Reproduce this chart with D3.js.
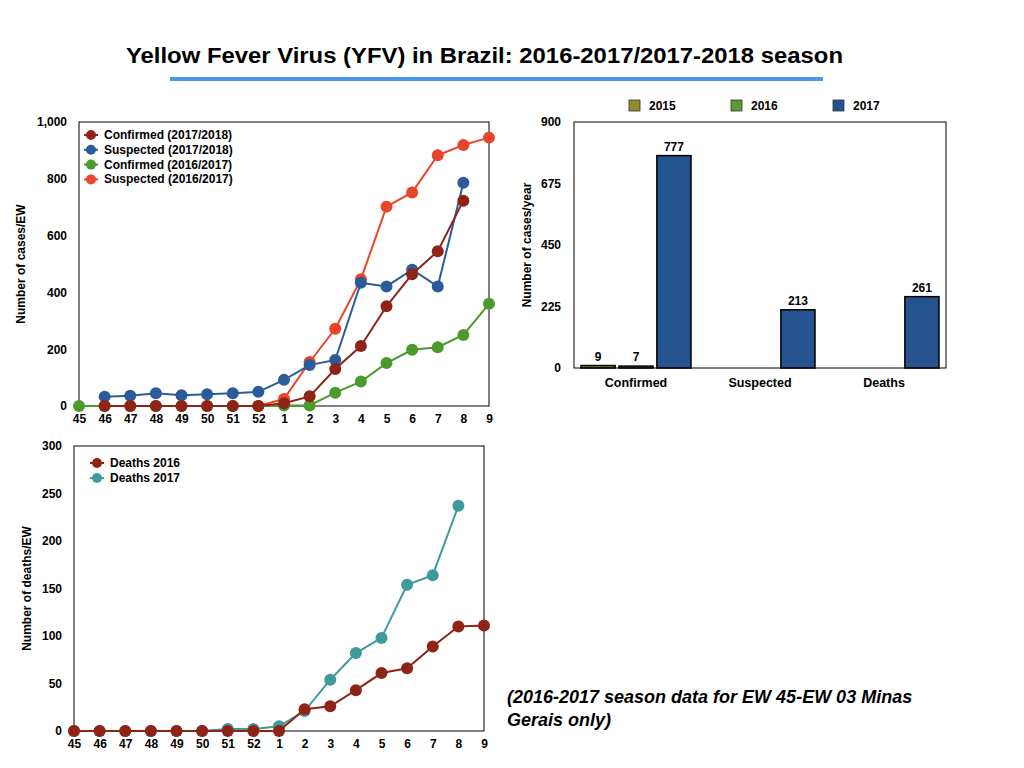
<!DOCTYPE html>
<html>
<head>
<meta charset="utf-8">
<script src="https://cdn.jsdelivr.net/npm/d3@7"></script>
<style>
  body { margin: 0; background: #fff; }
  svg { font-family: "Liberation Sans", Arial, sans-serif; font-weight: bold; }
</style>
</head>
<body>
<svg id="chart" width="1024" height="768"></svg>
<script>
// epidemiological weeks on the x axis
var weeks = ["45", "46", "47", "48", "49", "50", "51", "52", "1", "2", "3", "4", "5", "6", "7", "8", "9"];

// weekly cases (top-left chart)
var confirmed1718 = [null, 0, 0, 0, 0, 0, 0, 0, 10, 34, 130, 211, 351, 464, 545, 723, null];
var suspected1718 = [null, 33, 36, 45, 38, 41, 45, 50, 92, 144, 162, 434, 421, 480, 421, 786, null];
var confirmed1617 = [0, 0, 0, 0, 0, 0, 0, 0, 2, 2, 47, 86, 151, 198, 207, 250, 360];
var suspected1617 = [null, null, null, null, null, null, null, 0, 25, 155, 272, 446, 702, 752, 883, 919, 945];
var casesTicks = [0, 200, 400, 600, 800, 1000];

// weekly deaths (bottom chart)
var deaths2016 = [0, 0, 0, 0, 0, 0, 0, 0, 0, 23, 26, 43, 61, 66, 89, 110, 111];
var deaths2017 = [0, 0, 0, 0, 0, 0, 2, 2, 5, 21, 54, 82, 98, 154, 164, 237, null];
var deathsTicks = [0, 50, 100, 150, 200, 250, 300];

// yearly totals (top-right chart)
var categories = ["Confirmed", "Suspected", "Deaths"];
var years = ["2015", "2016", "2017"];
var totals2015 = [9, null, null];
var totals2016 = [7, null, null];
var totals2017 = [777, 213, 261];
var totalsTicks = [0, 225, 450, 675, 900];

var svg = d3.select("#chart");

svg.append("text")
  .attr("x", 126).attr("y", 63)
  .attr("textLength", 717).attr("lengthAdjust", "spacingAndGlyphs")
  .style("font-size", "22px")
  .text("Yellow Fever Virus (YFV) in Brazil: 2016-2017/2017-2018 season");

svg.append("rect")
  .attr("x", 170).attr("y", 77).attr("width", 653).attr("height", 4)
  .attr("fill", "#4a98e8");

var lineChart = function (cfg) {
  var g = svg.append("g");
  var x = d3.scalePoint().domain(weeks).range([cfg.x0, cfg.x1]);
  var y = d3.scaleLinear().domain(cfg.domain).range([cfg.y0, cfg.y1]);

  var yAxis = g.append("g")
    .attr("transform", "translate(" + cfg.x0 + ",0)")
    .call(d3.axisLeft(y).tickValues(cfg.ticks).tickSize(0).tickPadding(12).tickFormat(d3.format(",")));
  yAxis.select(".domain").remove();
  yAxis.selectAll("text").style("font-size", "12px").style("font-family", "inherit");

  var xAxis = g.append("g")
    .attr("transform", "translate(0," + cfg.y0 + ")")
    .call(d3.axisBottom(x).tickSize(0).tickPadding(8));
  xAxis.select(".domain").remove();
  xAxis.selectAll("text").style("font-size", "12px").style("font-family", "inherit");

  g.append("text")
    .attr("transform", "translate(" + cfg.labelX + "," + ((cfg.y0 + cfg.y1) / 2) + ") rotate(-90)")
    .attr("text-anchor", "middle")
    .style("font-size", "12px")
    .text(cfg.label);

  g.append("rect")
    .attr("x", cfg.x0).attr("y", cfg.y1)
    .attr("width", cfg.x1 - cfg.x0).attr("height", cfg.y0 - cfg.y1)
    .attr("fill", "none").attr("stroke", "#000").attr("stroke-width", 1);

  var line = d3.line()
    .defined(function (d) { return d !== null; })
    .x(function (d, i) { return x(weeks[i]); })
    .y(function (d) { return y(d); });

  cfg.series.forEach(function (s) {
    var sg = g.append("g");
    sg.append("path")
      .attr("d", line(s.values))
      .attr("fill", "none").attr("stroke", s.color).attr("stroke-width", 2);
    sg.selectAll("circle")
      .data(s.values.map(function (v, i) { return { v: v, w: weeks[i] }; })
        .filter(function (d) { return d.v !== null; }))
      .enter().append("circle")
      .attr("cx", function (d) { return x(d.w); })
      .attr("cy", function (d) { return y(d.v); })
      .attr("r", 6)
      .attr("fill", s.color);
  });

  var legend = g.append("g");
  cfg.legend.forEach(function (s, i) {
    var ly = cfg.legendY + i * cfg.legendStep;
    legend.append("line")
      .attr("x1", cfg.legendX - 7).attr("x2", cfg.legendX + 7)
      .attr("y1", ly).attr("y2", ly)
      .attr("stroke", s.color).attr("stroke-width", 2);
    legend.append("circle")
      .attr("cx", cfg.legendX).attr("cy", ly).attr("r", 5)
      .attr("fill", s.color);
    legend.append("text")
      .attr("x", cfg.legendX + 13).attr("y", ly + 4)
      .style("font-size", cfg.legendFont)
      .text(s.name);
  });
};

var cRed = "#8f2416", cBlue = "#2b5b98", cGreen = "#4c9a2c", cOrange = "#e9452b", cTeal = "#3f9a9a";

var s1 = { name: "Confirmed (2017/2018)", values: confirmed1718, color: cRed };
var s2 = { name: "Suspected (2017/2018)", values: suspected1718, color: cBlue };
var s3 = { name: "Confirmed (2016/2017)", values: confirmed1617, color: cGreen };
var s4 = { name: "Suspected (2016/2017)", values: suspected1617, color: cOrange };

lineChart({
  x0: 79, x1: 489, y0: 406, y1: 122,
  domain: [0, 1000], ticks: casesTicks,
  label: "Number of cases/EW", labelX: 25,
  series: [s3, s4, s2, s1],
  legend: [s1, s2, s3, s4],
  legendX: 91, legendY: 135, legendStep: 14.8, legendFont: "12px"
});

var d1 = { name: "Deaths 2016", values: deaths2016, color: cRed };
var d2 = { name: "Deaths 2017", values: deaths2017, color: cTeal };

lineChart({
  x0: 74, x1: 484, y0: 731, y1: 446,
  domain: [0, 300], ticks: deathsTicks,
  label: "Number of deaths/EW", labelX: 31,
  series: [d2, d1],
  legend: [d1, d2],
  legendX: 97, legendY: 463, legendStep: 15, legendFont: "12px"
});

// bar chart of yearly totals
(function () {
  var x0 = 574, x1 = 946, y0 = 368, y1 = 122;
  var g = svg.append("g");
  var colors = { "2015": "#8e8e2e", "2016": "#5d9a33", "2017": "#24538d" };
  var byYear = { "2015": totals2015, "2016": totals2016, "2017": totals2017 };

  var x = d3.scaleBand().domain(categories).range([x0, x1]);
  var xi = d3.scaleBand().domain(years).range([7, 117]).paddingInner(0.1);
  var y = d3.scaleLinear().domain([0, 900]).range([y0, y1]);

  var yAxis = g.append("g")
    .attr("transform", "translate(" + x0 + ",0)")
    .call(d3.axisLeft(y).tickValues(totalsTicks).tickSize(0).tickPadding(13));
  yAxis.select(".domain").remove();
  yAxis.selectAll("text").style("font-size", "12px").style("font-family", "inherit");

  var xAxis = g.append("g")
    .attr("transform", "translate(0," + y0 + ")")
    .call(d3.axisBottom(x).tickSize(0).tickPadding(10));
  xAxis.select(".domain").remove();
  xAxis.selectAll("text").style("font-size", "12.5px").style("font-family", "inherit");

  g.append("text")
    .attr("transform", "translate(531," + ((y0 + y1) / 2) + ") rotate(-90)")
    .attr("text-anchor", "middle")
    .style("font-size", "12px")
    .text("Number of cases/year");

  var cells = [];
  years.forEach(function (yr) {
    byYear[yr].forEach(function (v, i) {
      if (v !== null) { cells.push({ year: yr, cat: categories[i], v: v }); }
    });
  });

  g.selectAll(".bar").data(cells).enter().append("rect")
    .attr("class", "bar")
    .attr("x", function (d) { return x(d.cat) + xi(d.year); })
    .attr("y", function (d) { return y(d.v); })
    .attr("width", xi.bandwidth())
    .attr("height", function (d) { return y0 - y(d.v); })
    .attr("fill", function (d) { return colors[d.year]; })
    .attr("stroke", "#000").attr("stroke-width", 1.5);

  g.selectAll(".val").data(cells).enter().append("text")
    .attr("class", "val")
    .attr("x", function (d) { return x(d.cat) + xi(d.year) + xi.bandwidth() / 2; })
    .attr("y", function (d) { return y(d.v) - 5; })
    .attr("text-anchor", "middle")
    .style("font-size", "12px")
    .text(function (d) { return d.v; });

  g.append("rect")
    .attr("x", x0).attr("y", y1)
    .attr("width", x1 - x0).attr("height", y0 - y1)
    .attr("fill", "none").attr("stroke", "#000").attr("stroke-width", 1);

  var legendX = [629, 731, 833];
  years.forEach(function (yr, i) {
    g.append("rect")
      .attr("x", legendX[i]).attr("y", 100).attr("width", 11).attr("height", 11)
      .attr("fill", colors[yr]).attr("stroke", "#333").attr("stroke-width", 0.8);
    g.append("text")
      .attr("x", legendX[i] + 20).attr("y", 110)
      .style("font-size", "12px")
      .text(yr);
  });
})();

var note = svg.append("text")
  .style("font-size", "18px").style("font-style", "italic");
note.append("tspan").attr("x", 507).attr("y", 703)
  .text("(2016-2017 season data for EW 45-EW 03 Minas");
note.append("tspan").attr("x", 507).attr("y", 726)
  .text("Gerais only)");
</script>
</body>
</html>
